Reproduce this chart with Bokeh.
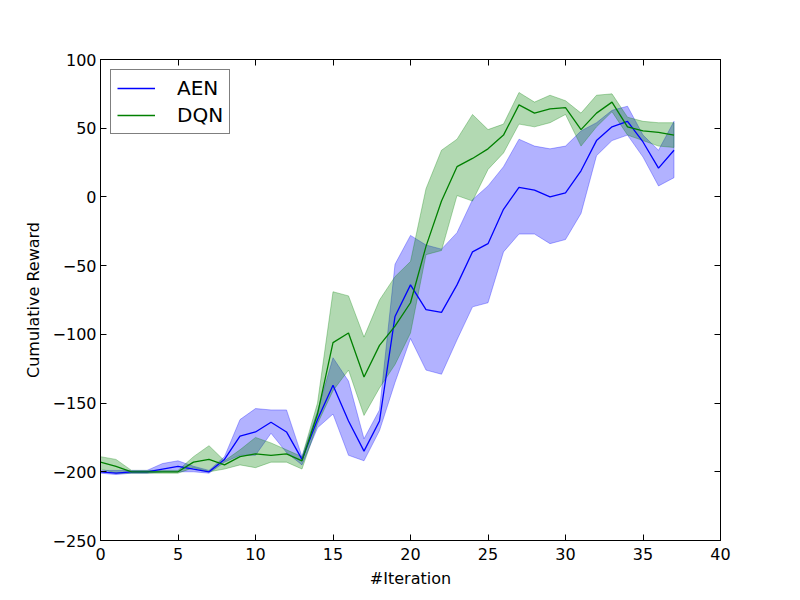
from bokeh.plotting import figure
from bokeh.models import Range1d, FixedTicker, LinearAxis, Legend, LegendItem, CustomJSTickFormatter
from bokeh.embed import file_html
from bokeh.resources import INLINE

iterations = list(range(38))

aen_mean = [-200, -201, -200, -200, -198, -196, -198, -200, -191, -174,
            -171, -164, -171, -191, -162, -137, -163, -185, -163, -87,
            -64, -82, -84, -64, -40, -34, -9, 7, 5, 0,
            3, 19, 41, 51, 55, 40, 21, 34]
aen_upper = [-199, -199, -199, -199, -194, -192, -196, -199, -189, -162,
             -154, -155, -155, -189, -156, -117, -134, -176, -155, -49,
             -28, -35, -38, -26, -2, 8, 22, 42, 37, 35,
             37, 48, 54, 63, 66, 45, 34, 55]
aen_lower = [-201, -202, -201, -201, -200, -200, -200, -201, -193, -188,
             -188, -172, -186, -195, -168, -158, -188, -192, -170, -135,
             -103, -126, -129, -104, -80, -77, -40, -27, -27, -34,
             -31, -12, 30, 41, 45, 29, 8, 14]

dqn_mean = [-193, -196, -200, -200, -200, -200, -193, -191, -195, -189,
            -187, -188, -187, -192, -158, -106, -99, -131, -108, -94,
            -77, -36, -3, 22, 28, 35, 45, 67, 61, 64,
            65, 49, 61, 69, 51, 48, 47, 45]
dqn_upper = [-189, -191, -199, -199, -199, -199, -189, -181, -192, -184,
             -175, -179, -184, -189, -150, -69, -72, -102, -75, -58,
             -47, 6, 34, 42, 60, 49, 53, 76, 69, 74,
             70, 61, 74, 75, 58, 55, 54, 54]
dqn_lower = [-198, -201, -201, -201, -201, -201, -197, -200, -198, -195,
             -197, -193, -193, -198, -165, -141, -126, -159, -139, -122,
             -99, -42, -39, 1, -3, 20, 32, 53, 51, 54,
             60, 37, 51, 62, 45, 41, 37, 36]

x_ticks = [0, 5, 10, 15, 20, 25, 30, 35, 40]
y_ticks = [-250, -200, -150, -100, -50, 0, 50, 100]
y_tick_labels = ["\u2212250", "\u2212200", "\u2212150", "\u2212100", "\u221250", "0", "50", "100"]

FONT = "DejaVu Sans"

p = figure(width=800, height=600, output_backend="svg", toolbar_location=None,
           x_range=Range1d(0, 40), y_range=Range1d(-250, 100),
           min_border_left=100, min_border_right=80, min_border_top=59, min_border_bottom=60,
           x_axis_label="#Iteration", y_axis_label="Cumulative Reward")
p.grid.visible = False
p.outline_line_color = "black"
p.outline_line_width = 1

def style_axis(ax, ticks):
    ax.ticker = FixedTicker(ticks=ticks)
    ax.major_tick_in = 6
    ax.major_tick_out = 0
    ax.minor_tick_line_color = None
    ax.axis_line_color = "black"
    ax.major_tick_line_color = "black"
    ax.major_label_text_font = FONT
    ax.major_label_text_font_size = "16px"
    ax.major_label_text_color = "black"
    ax.axis_label_text_font = FONT
    ax.axis_label_text_font_size = "16px"
    ax.axis_label_text_font_style = "normal"
    ax.axis_label_text_color = "black"

style_axis(p.xaxis[0], x_ticks)
style_axis(p.yaxis[0], y_ticks)
p.xaxis[0].major_label_standoff = 7
p.xaxis[0].axis_label_standoff = 6
p.yaxis[0].major_label_standoff = 4
p.yaxis[0].axis_label_standoff = 7
p.yaxis[0].major_label_overrides = {v: s for v, s in zip(y_ticks, y_tick_labels)}

blank = CustomJSTickFormatter(code="return ''")
top = LinearAxis(formatter=blank)
style_axis(top, x_ticks)
top.major_label_standoff = 0
right = LinearAxis(formatter=blank)
style_axis(right, y_ticks)
right.major_label_standoff = 0
p.add_layout(top, "above")
p.add_layout(right, "right")

aen_xs = iterations + iterations[::-1]
aen_ys = aen_upper + aen_lower[::-1]
dqn_xs = iterations + iterations[::-1]
dqn_ys = dqn_upper + dqn_lower[::-1]

p.patch(aen_xs, aen_ys, fill_color="#0000ff", fill_alpha=0.3,
        line_color="#0000ff", line_alpha=0.3, line_width=1)
p.patch(dqn_xs, dqn_ys, fill_color="#008000", fill_alpha=0.3,
        line_color="#008000", line_alpha=0.3, line_width=1)
r_aen = p.line(iterations, aen_mean, line_color="#0000ff", line_width=1.3)
r_dqn = p.line(iterations, dqn_mean, line_color="#008000", line_width=1.3)

legend = Legend(items=[LegendItem(label="AEN", renderers=[r_aen]),
                       LegendItem(label="DQN", renderers=[r_dqn])],
                location="top_left", margin=10,
                border_line_color="black", border_line_width=1,
                background_fill_color="white", background_fill_alpha=1,
                label_text_font=FONT, label_text_font_size="20px",
                label_text_color="black",
                glyph_width=38, glyph_height=20, label_height=20,
                label_standoff=22, spacing=3, padding=6)
p.add_layout(legend, "center")

open("out.html", "w").write(file_html(p, INLINE))
